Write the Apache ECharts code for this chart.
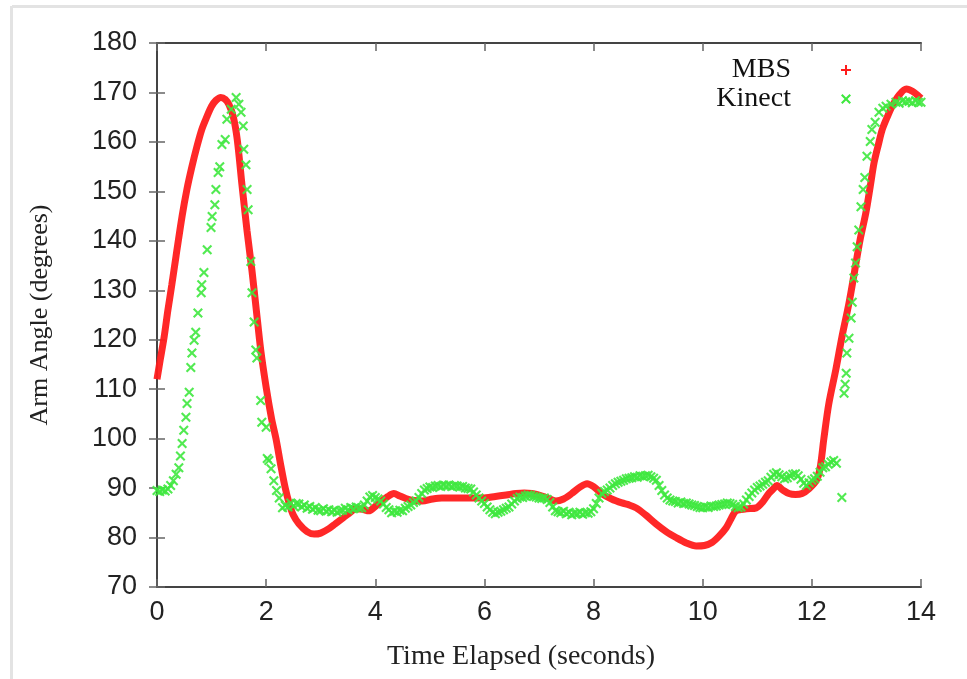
<!DOCTYPE html>
<html>
<head>
<meta charset="utf-8">
<script src="https://cdn.jsdelivr.net/npm/echarts@6/dist/echarts.min.js"></script>
<style>html,body{margin:0;padding:0;background:#fff}#c{width:967px;height:679px}</style>
</head>
<body>
<div id="c"></div>
<script>
// MBS (red) readings: time (s), angle (deg)
const mbsTime = [0,0.06,0.13,0.2,0.27,0.35,0.46,0.55,0.64,0.73,0.82,0.91,1.0,1.08,1.17,1.25,1.32,1.4,1.47,1.56,1.65,1.74,1.82,1.9,2.0,2.1,2.18,2.27,2.35,2.42,2.5,2.6,2.75,2.88,3.0,3.15,3.27,3.39,3.52,3.65,3.77,3.88,4.0,4.12,4.23,4.34,4.45,4.56,4.7,4.86,5.05,5.22,5.45,5.7,5.96,6.2,6.4,6.58,6.73,6.87,7.0,7.15,7.31,7.45,7.6,7.75,7.88,8.0,8.15,8.33,8.52,8.65,8.78,8.95,9.14,9.33,9.51,9.7,9.88,10.03,10.17,10.3,10.43,10.52,10.61,10.8,10.98,11.1,11.21,11.3,11.36,11.47,11.58,11.7,11.82,11.95,12.08,12.15,12.22,12.31,12.44,12.55,12.68,12.77,12.88,12.99,13.07,13.14,13.22,13.29,13.38,13.47,13.6,13.73,13.85,13.96,14.0];
const mbsAngle = [112,116,120.5,126,131,137,145,150.5,155,159,162.5,165,167.2,168.4,169,168.6,167.5,165,160.5,151,142,134,126,118,110.4,104,100,94.5,90,87,84.5,82.8,81.2,80.7,80.9,81.8,82.8,83.8,84.9,85.8,85.7,85.4,86.3,87.4,88.3,88.9,88.4,87.9,87.5,87.4,87.8,88,88,88,88,88.3,88.6,88.9,89,88.9,88.6,88,87.4,87.8,88.9,90.2,90.9,90.3,88.9,87.8,87,86.6,86,84.6,82.8,81.2,80,78.9,78.3,78.4,79,80.3,82,83.8,85.4,85.8,86,87.2,88.9,89.9,90.5,89.6,88.9,88.7,88.9,89.9,91.5,94,100,107,114,120.5,127.4,133,140,145.7,151,155.8,159.5,162.5,165,167.2,169.5,170.7,170.2,169.2,168.8];

// Kinect (green) readings: time (s), angle (deg)
const kinectTime = [0,0.05,0.1,0.15,0.2,0.25,0.3,0.35,0.4,0.43,0.46,0.49,0.53,0.55,0.59,0.62,0.64,0.68,0.71,0.75,0.81,0.82,0.86,0.92,0.99,1.01,1.06,1.08,1.12,1.15,1.19,1.25,1.28,1.36,1.45,1.5,1.54,1.58,1.59,1.63,1.65,1.67,1.72,1.74,1.78,1.81,1.83,1.9,1.92,2.0,2.02,2.05,2.09,2.14,2.19,2.24,2.3,2.35,2.4,2.45,2.5,2.55,2.6,2.65,2.7,2.75,2.8,2.85,2.9,2.95,3.0,3.05,3.1,3.15,3.2,3.25,3.3,3.35,3.4,3.45,3.5,3.55,3.6,3.65,3.7,3.75,3.8,3.85,3.9,3.95,4.0,4.05,4.1,4.15,4.2,4.25,4.3,4.35,4.4,4.45,4.5,4.55,4.6,4.65,4.7,4.75,4.8,4.85,4.9,4.95,5.0,5.05,5.1,5.15,5.2,5.25,5.3,5.35,5.4,5.45,5.5,5.55,5.6,5.65,5.7,5.75,5.8,5.85,5.9,5.95,6.0,6.05,6.1,6.15,6.2,6.25,6.3,6.35,6.4,6.45,6.5,6.55,6.6,6.65,6.7,6.75,6.8,6.85,6.9,6.95,7.0,7.05,7.1,7.15,7.2,7.25,7.3,7.35,7.4,7.45,7.5,7.55,7.6,7.65,7.7,7.75,7.8,7.85,7.9,7.95,8.0,8.05,8.1,8.15,8.2,8.25,8.3,8.35,8.4,8.45,8.5,8.55,8.6,8.65,8.7,8.75,8.8,8.85,8.9,8.95,9.0,9.05,9.1,9.15,9.2,9.25,9.3,9.35,9.4,9.45,9.5,9.55,9.6,9.65,9.7,9.75,9.8,9.85,9.9,9.95,10.0,10.05,10.1,10.15,10.2,10.25,10.3,10.35,10.4,10.45,10.5,10.55,10.6,10.65,10.7,10.75,10.8,10.85,10.9,10.95,11.0,11.05,11.1,11.15,11.2,11.25,11.3,11.35,11.4,11.45,11.5,11.55,11.6,11.65,11.7,11.75,11.8,11.85,11.9,11.95,12.0,12.05,12.1,12.15,12.2,12.25,12.3,12.35,12.4,12.45,12.55,12.59,12.61,12.63,12.64,12.68,12.72,12.74,12.77,12.8,12.83,12.86,12.9,12.94,12.97,13.01,13.07,13.1,13.16,13.23,13.3,13.36,13.45,13.54,13.6,13.66,13.72,13.78,13.84,13.9,13.95,14.0];
const kinectAngle = [89.5,89.3,89.6,89.4,89.8,90.5,91.5,92.8,94.1,96.5,99,101.7,104.3,107.1,109.4,114.4,117.3,119.9,121.5,125.4,129.5,131.1,133.6,138.2,142.7,144.9,147.3,150.4,153.8,155,159.5,160.5,164.6,166.6,169,167.6,166,163.2,158.5,155.4,150.4,146.3,135.8,129.5,123.6,117.9,116.3,107.7,103.3,102.3,96,95.6,93.9,91.5,89.5,88,86,86.5,86.2,87,86.4,86.9,86.8,86.2,86.6,85.9,86.3,85.7,86.1,85.5,85.4,85.8,85.3,85.6,85.2,85.5,85.1,85.4,85.5,85.9,85.6,86.1,85.8,86.2,85.9,86,86.6,87.4,88.2,88.5,88.1,87.8,87.4,86.8,86.1,85.6,85,85.3,85.1,85.5,85.4,85.9,86.3,86.6,87.1,87.4,88.1,88.9,89.6,89.9,90.2,90.1,90.4,90.5,90.3,90.6,90.4,90.6,90.3,90.5,90.4,90.2,90.3,90,89.9,89.8,89.2,88.6,88,87.4,86.9,86.2,85.6,85.1,84.8,85.1,85.3,85.6,85.9,86.2,86.8,87.4,87.9,88.2,88.1,88.4,88.6,88.5,88.3,88.2,88,87.9,88,87.7,87.1,86.2,85.4,85.2,85,85.3,84.8,85.1,84.6,84.9,84.8,85.1,84.7,85,84.9,85.2,85.8,86.9,88,88.9,89.3,89.6,90,90.5,90.9,91.2,91.4,91.6,91.9,92,92.1,92.3,92.2,92.5,92.4,92.5,92.6,92.3,92,91.6,90.5,89.5,88.6,88,87.6,87.4,87.3,87,87.2,86.9,87,86.8,86.6,86.5,86.3,86.1,86,86.2,86.1,86.4,86.3,86.4,86.6,86.7,86.8,87,86.9,86.7,86.3,86,86.2,86.8,87.6,88.3,89,89.6,90.1,90.4,90.8,91.2,91.5,92.2,92.8,93.1,92.7,92.3,91.9,92.1,92.5,92.8,92.9,92.5,91.8,91,90.5,91.1,91.6,91.9,92.4,93.2,94.1,94.3,94.8,95.3,95.6,95,88.1,109.2,111,113.2,117.3,120.3,124.4,127.6,132.5,135.5,138.8,142.2,146.9,150.4,152.8,157.1,160.1,162.5,164,166,166.8,167.2,167.6,168,167.8,168.3,168.1,168.2,167.9,168.3,168,168];

const xTicks = { min: 0, max: 14, interval: 2 };
const yTicks = { min: 70, max: 180, interval: 10 };
const seriesNames = ['MBS', 'Kinect'];
const axisTitles = { x: 'Time Elapsed (seconds)', y: 'Arm Angle (degrees)' };

const mbsData = mbsTime.map((t, i) => [t, mbsAngle[i]]);
const kinectData = kinectTime.map((t, i) => [t, kinectAngle[i]]);

const PLUS = 'path://M4,0 L6,0 L6,4 L10,4 L10,6 L6,6 L6,10 L4,10 L4,6 L0,6 L0,4 L4,4 Z';
const CROSS = 'path://M0,1.5 L1.5,0 L5,3.5 L8.5,0 L10,1.5 L6.5,5 L10,8.5 L8.5,10 L5,6.5 L1.5,10 L0,8.5 L3.5,5 Z';
const RED = '#ff1c1c';
const GREEN = '#3fe83f';

const tickFont = { fontFamily: 'Liberation Sans', fontSize: 27, color: '#222' };
const axisLineStyle = { lineStyle: { color: '#444', width: 2 } };
const tickStyle = { show: true, inside: true, length: 8, lineStyle: { color: '#666', width: 1.5 } };

const chart = echarts.init(document.getElementById('c'), null, { renderer: 'canvas' });
chart.setOption({
  animation: false,
  backgroundColor: '#fff',
  graphic: [
    { type: 'line', shape: { x1: 12, y1: 6.5, x2: 967, y2: 6.5 }, style: { stroke: '#e3e3e3', lineWidth: 3 } },
    { type: 'line', shape: { x1: 11.5, y1: 6, x2: 11.5, y2: 679 }, style: { stroke: '#e3e3e3', lineWidth: 3 } }
  ],
  grid: { left: 157, right: 46, top: 43, bottom: 92, containLabel: false },
  legend: {
    orient: 'vertical',
    right: 111,
    top: 51,
    align: 'right',
    itemWidth: 100,
    itemHeight: 10,
    itemGap: 1,
    selectedMode: false,
    textStyle: { fontFamily: 'Liberation Serif', fontSize: 28, color: '#111', lineHeight: 28 },
    data: [
      { name: seriesNames[0], icon: PLUS, itemStyle: { color: RED, opacity: 1 } },
      { name: seriesNames[1], icon: CROSS, itemStyle: { color: GREEN, opacity: 1 } }
    ]
  },
  xAxis: [
    {
      type: 'value', min: xTicks.min, max: xTicks.max, interval: xTicks.interval,
      name: axisTitles.x, nameLocation: 'middle', nameGap: 56,
      nameTextStyle: { fontFamily: 'Liberation Serif', fontSize: 28, color: '#222', padding: [0, 36, 0, 0] },
      axisLine: axisLineStyle, axisTick: tickStyle,
      axisLabel: Object.assign({ margin: 12 }, tickFont),
      splitLine: { show: false }
    },
    {
      type: 'value', position: 'top', min: xTicks.min, max: xTicks.max, interval: xTicks.interval,
      axisLine: axisLineStyle, axisTick: tickStyle, axisLabel: { show: false }, splitLine: { show: false }
    }
  ],
  yAxis: [
    {
      type: 'value', min: yTicks.min, max: yTicks.max, interval: yTicks.interval,
      name: axisTitles.y, nameLocation: 'middle', nameGap: 104,
      nameTextStyle: { fontFamily: 'Liberation Serif', fontSize: 26, color: '#222' },
      axisLine: axisLineStyle, axisTick: tickStyle,
      axisLabel: Object.assign({ margin: 20 }, tickFont),
      splitLine: { show: false }
    },
    {
      type: 'value', position: 'right', min: yTicks.min, max: yTicks.max, interval: yTicks.interval,
      axisLine: axisLineStyle, axisTick: tickStyle, axisLabel: { show: false }, splitLine: { show: false }
    }
  ],
  series: [
    {
      name: seriesNames[0], type: 'line', data: mbsData, smooth: 0.3,
      showSymbol: false, symbol: PLUS,
      itemStyle: { color: RED },
      lineStyle: { color: RED, width: 7, opacity: 0.95 },
      z: 2
    },
    {
      name: seriesNames[1], type: 'scatter', data: kinectData,
      symbol: CROSS, symbolSize: 10,
      itemStyle: { color: GREEN, opacity: 0.9 },
      z: 3
    }
  ]
});
</script>
</body>
</html>
